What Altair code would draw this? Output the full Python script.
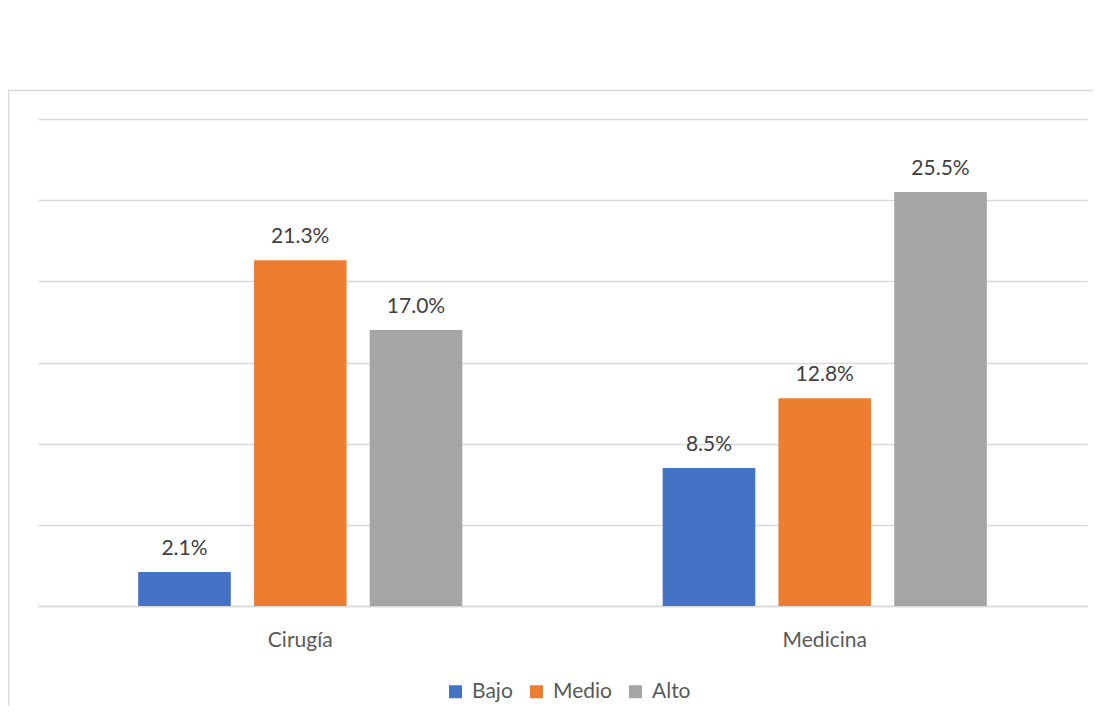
import altair as alt
import pandas as pd

groups = ["Cirugía", "Cirugía", "Cirugía", "Medicina", "Medicina", "Medicina"]
levels = ["Bajo", "Medio", "Alto", "Bajo", "Medio", "Alto"]
values = [2.1, 21.3, 17.0, 8.5, 12.8, 25.5]
level_order = ["Bajo", "Medio", "Alto"]
colors = ["#4472C4", "#ED7D31", "#A5A5A5"]
y_ticks = [0, 5, 10, 15, 20, 25, 30]

df = pd.DataFrame({"grupo": groups, "nivel": levels, "valor": values})
df["etiqueta"] = [f"{v:.1f}%" for v in values]

FONT = "Lato"
FS = 21

x_enc = alt.X(
    "grupo:N",
    sort=["Cirugía", "Medicina"],
    scale=alt.Scale(paddingInner=0.382, paddingOuter=0.191),
    axis=alt.Axis(
        title=None, labelAngle=0, ticks=False, domain=True,
        domainColor="#d9d9d9", domainWidth=1.5, labelPadding=23,
        labelFontSize=FS, labelColor="#595959", labelFont=FONT, grid=False,
    ),
)
xoff = alt.XOffset("nivel:N", sort=level_order,
                   scale=alt.Scale(paddingInner=0.2, paddingOuter=0))
y_enc = alt.Y(
    "valor:Q",
    scale=alt.Scale(domain=[0, 30], nice=False),
    axis=alt.Axis(
        title=None, labels=False, ticks=False, domain=False, grid=True,
        values=y_ticks, gridColor="#d9d9d9", gridWidth=1.5,
    ),
)

base = alt.Chart(df).encode(x=x_enc, xOffset=xoff, y=y_enc)

bars = base.mark_bar().encode(
    color=alt.Color(
        "nivel:N", sort=level_order,
        scale=alt.Scale(domain=level_order, range=colors),
        legend=alt.Legend(
            title=None, orient="none", direction="horizontal",
            legendX=407, legendY=562, symbolType="square", symbolSize=169,
            symbolStrokeWidth=0, labelFontSize=FS, labelColor="#595959",
            labelFont=FONT, columnPadding=13, labelOffset=6,
        ),
    )
)

texts = base.mark_text(
    baseline="middle", dy=-23, fontSize=FS, color="#404040", font=FONT
).encode(text="etiqueta:N")

frame = alt.Chart(pd.DataFrame({"a": [0]})).mark_rect(
    filled=False, stroke="#d9d9d9", strokeWidth=1.5
).encode(
    x=alt.value(-29.5), x2=alt.value(1200), y=alt.value(-28.5), y2=alt.value(900)
)

chart = alt.layer(frame, bars, texts).properties(
    width=1049, height=487,
    autosize=alt.AutoSizeParams(type="none"),
    padding={"left": 30, "top": 111, "right": 6, "bottom": 100},
    background="white",
).configure_view(stroke=None)

chart.save("out.html", embed_options={"renderer": "svg", "actions": False})
